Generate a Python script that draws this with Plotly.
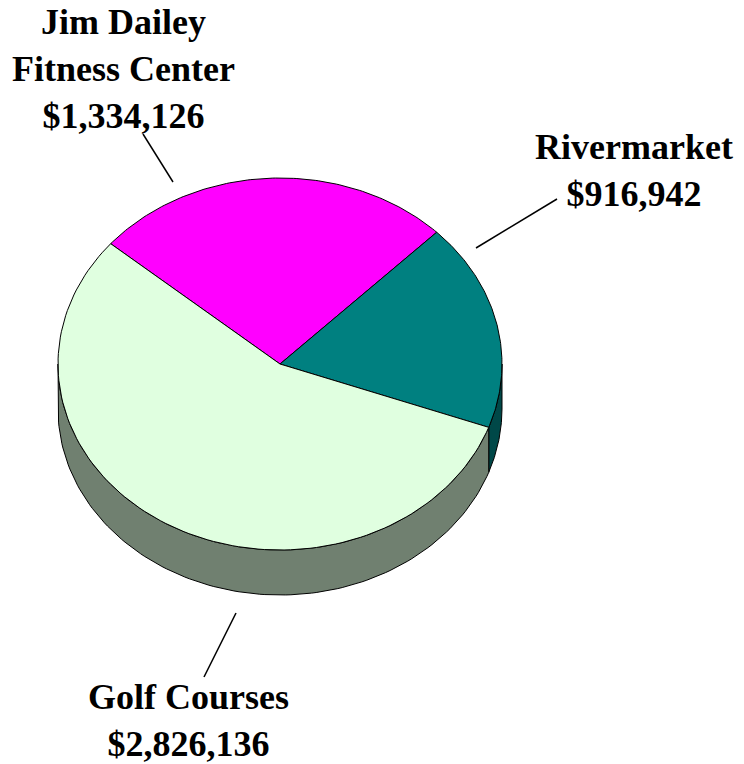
import numpy as np
import plotly.graph_objects as go

# Revenue by facility
facilities = ["Jim Dailey<br>Fitness Center", "Rivermarket", "Golf Courses"]
revenue = [1334126, 916942, 2826136]

# Slice styling (top face, side wall)
top_colors = ["#FF00FF", "#008080", "#E0FFE0"]
side_colors = ["#800080", "#004848", "#708070"]

# Pie geometry in page pixels (x right, y down)
CX, CY = 280.0, 364.0
RX, RY = 222.0, 186.0
DEPTH = 45.0
START_DEG = 139.7  # first slice starts here and runs clockwise

# Label placement (center of each text block) and leader lines
label_pos = [(123, 69), (634, 170), (188, 720)]
leaders = [((143, 134), (173, 182)), ((557, 199), (476, 248)), ((236, 613), (204, 677))]


def pt(theta_deg, drop=0.0):
    t = np.radians(theta_deg)
    return CX + RX * np.cos(t), CY - RY * np.sin(t) + drop


def arc(a0, a1, drop=0.0, n=120):
    ts = np.linspace(a0, a1, n)
    xs, ys = pt(ts, drop)
    return list(xs), list(ys)


total = float(sum(revenue))
spans = [v / total * 360.0 for v in revenue]

# slice angular ranges, clockwise (decreasing theta)
ranges = []
a = START_DEG
for s in spans:
    ranges.append((a, a - s))
    a -= s

fig = go.Figure()

# side walls: only the front half (theta in [180, 360] mod 360) is visible
for (a0, a1), col in zip(ranges, side_colors):
    hi, lo = a0, a1
    # shift so we test against the visible window [-180, 0]
    for k in (-360, 0, 360):
        h = min(hi + k, 0.0)
        l = max(lo + k, -180.0)
        if h > l:
            xt, yt = arc(h, l)
            xb, yb = arc(l, h, DEPTH)
            fig.add_trace(go.Scatter(
                x=xt + xb + [xt[0]], y=yt + yb + [yt[0]],
                mode="lines", fill="toself", fillcolor=col,
                line=dict(color="black", width=1), hoverinfo="skip",
                showlegend=False))

# top faces
for (a0, a1), col in zip(ranges, top_colors):
    xs, ys = arc(a0, a1)
    fig.add_trace(go.Scatter(
        x=[CX] + xs + [CX], y=[CY] + ys + [CY],
        mode="lines", fill="toself", fillcolor=col,
        line=dict(color="black", width=1), hoverinfo="skip",
        showlegend=False))

for name, val, (lx, ly) in zip(facilities, revenue, label_pos):
    fig.add_annotation(
        x=lx, y=ly, xref="x", yref="y", showarrow=False,
        text=f"<b>{name}<br>${val:,.0f}</b>",
        font=dict(family="Liberation Serif", size=36, color="black"),
        align="center", xanchor="center", yanchor="middle")

for (x0, y0), (x1, y1) in leaders:
    fig.add_shape(type="line", x0=x0, y0=y0, x1=x1, y1=y1,
                  xref="x", yref="y", line=dict(color="black", width=1.5))

fig.update_xaxes(range=[0, 744], visible=False)
fig.update_yaxes(range=[764, 0], visible=False)
fig.update_layout(width=744, height=764, margin=dict(l=0, r=0, t=0, b=0),
                  paper_bgcolor="white", plot_bgcolor="white")

fig.write_html("out.html")
